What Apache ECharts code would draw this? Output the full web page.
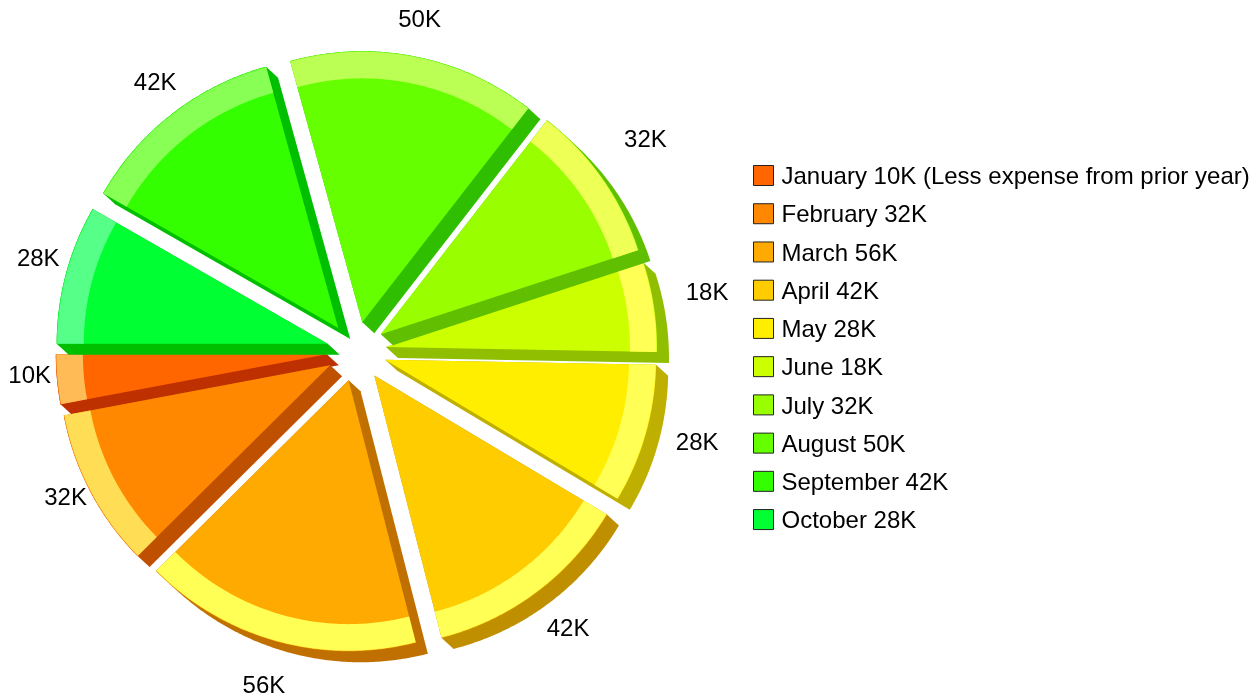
<!DOCTYPE html>
<html>
<head>
<meta charset="utf-8">
<title>Expenses by month</title>
<script src="https://cdn.jsdelivr.net/npm/echarts@6/dist/echarts.min.js"></script>
<style>
  html, body { margin: 0; padding: 0; background: #fff; }
  #chart { width: 1257px; height: 698px; }
</style>
</head>
<body>
<div id="chart"></div>
<script>
const months = ['January', 'February', 'March', 'April', 'May', 'June', 'July', 'August', 'September', 'October'];
const values = [10, 32, 56, 42, 28, 18, 32, 50, 42, 28];
const notes = [' (Less expense from prior year)', '', '', '', '', '', '', '', '', ''];
const colors = ['#ff6600', '#ff8800', '#ffaa00', '#ffcc00', '#ffee00', '#ccff00', '#99ff00', '#66ff00', '#33ff00', '#00ff33'];

// label nudges in px, away from the point at 120% radius
const labelNudge = [[-3, -5], [-3, -4], [-6, 21], [17, 17], [28, 2], [29, -10], [23, -24], [0, -12], [-2, -11], [-4, -8]];

const FONT = '"Liberation Sans", Arial, sans-serif';
const EXPLODE = 11;      // radius units
const RIM = 90;          // radius units
const DEPTH = [12, 11];  // px

function channels(hex) {
  return [1, 3, 5].map(function (i) { return parseInt(hex.substr(i, 2), 16); });
}
function rimColor(hex) {
  let c = channels(hex).map(function (v) { return Math.min(255, v + 0x55); });
  return 'rgb(' + c.join(',') + ')';
}
function darkColor(hex) {
  let c = channels(hex).map(function (v) { return Math.max(0, Math.round((v - 0x33) * 0.9375)); });
  return 'rgb(' + c.join(',') + ')';
}

// convex hull, used for the extruded side of a slice
function hull(points) {
  let pts = points.slice().sort(function (a, b) { return a[0] - b[0] || a[1] - b[1]; });
  let cross = function (o, a, b) {
    return (a[0] - o[0]) * (b[1] - o[1]) - (a[1] - o[1]) * (b[0] - o[0]);
  };
  let half = function (list) {
    let out = [];
    list.forEach(function (p) {
      while (out.length >= 2 && cross(out[out.length - 2], out[out.length - 1], p) <= 0) out.pop();
      out.push(p);
    });
    out.pop();
    return out;
  };
  return half(pts).concat(half(pts.slice().reverse()));
}

function renderSlice(params, api) {
  let i = params.seriesIndex;
  let start = api.value(0);
  let end = api.value(1);
  let mid = (start + end) / 2;
  let origin = api.coord([0, mid]);
  let tip = api.coord([EXPLODE, mid]);
  let dx = tip[0] - origin[0];
  let dy = tip[1] - origin[1];

  let at = function (r, v) {
    let p = api.coord([r, v]);
    return [p[0] + dx, p[1] + dy];
  };
  let arc = function (r) {
    let pts = [];
    let n = Math.ceil((end - start) * 2);
    for (let k = 0; k <= n; k++) pts.push(at(r, start + (end - start) * k / n));
    return pts;
  };

  let face = [at(0, mid)].concat(arc(100));
  let rim = arc(RIM).concat(arc(99.8).reverse());
  let side = hull(face.concat(face.map(function (p) { return [p[0] + DEPTH[0], p[1] + DEPTH[1]]; })));

  let labelAt = api.coord([120, mid]);
  return {
    type: 'group',
    children: [
      { type: 'polygon', shape: { points: side }, style: { fill: darkColor(colors[i]) } },
      { type: 'polygon', shape: { points: face }, style: { fill: colors[i] } },
      { type: 'polygon', shape: { points: rim }, style: { fill: rimColor(colors[i]) } },
      {
        type: 'text',
        x: labelAt[0] + labelNudge[i][0],
        y: labelAt[1] + labelNudge[i][1],
        style: {
          text: values[i] + 'K',
          fill: '#000',
          font: '24px ' + FONT,
          align: 'center',
          verticalAlign: 'middle'
        }
      }
    ]
  };
}

let total = 0;
let series = [];
for (let i = 0; i < values.length; i++) {
  series.push({
    type: 'custom',
    name: months[i] + ' ' + values[i] + 'K' + notes[i],
    coordinateSystem: 'polar',
    renderItem: renderSlice,
    itemStyle: { color: colors[i] },
    data: [[total, total + values[i]]],
    silent: true,
    animation: false
  });
  total += values[i];
}

let chart = echarts.init(document.getElementById('chart'));
chart.setOption({
  backgroundColor: '#fff',
  animation: false,
  polar: { center: [356.5, 351.5], radius: 271 },
  angleAxis: { type: 'value', min: 0, max: total, startAngle: 180, clockwise: false, show: false },
  radiusAxis: { type: 'value', min: 0, max: 100, show: false },
  legend: {
    orient: 'vertical',
    left: 753,
    top: 165,
    icon: 'rect',
    itemWidth: 20,
    itemHeight: 20,
    itemGap: 13.73,
    padding: 0,
    selectedMode: false,
    itemStyle: { borderColor: '#222', borderWidth: 1 },
    formatter: '{t|{name}}',
    textStyle: {
      color: '#000',
      fontSize: 24,
      fontFamily: FONT,
      padding: [0, 0, 0, 3],
      rich: {
        t: { color: '#000', fontSize: 24, fontFamily: FONT, lineHeight: 28, verticalAlign: 'bottom' }
      }
    },
    data: series.map(function (s) { return s.name; })
  },
  series: series
});
</script>
</body>
</html>
